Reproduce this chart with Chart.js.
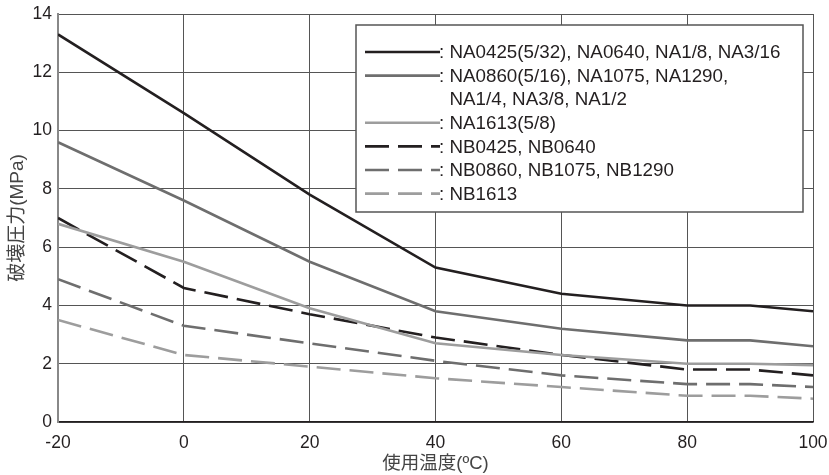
<!DOCTYPE html>
<html>
<head>
<meta charset="utf-8">
<script src="https://cdn.jsdelivr.net/npm/chart.js@4.4.1/dist/chart.umd.min.js"></script>
<style>
  html, body { margin: 0; padding: 0; background: #fff; }
  #wrap { width: 829px; height: 475px; }
</style>
</head>
<body>
<div id="wrap"><canvas id="burst"></canvas></div>
<script>
// temperatures (°C) read at each bend of the curves
const temps = [-20, 0, 20, 40, 60, 80, 90, 100];

// burst pressure (MPa)
const na0425 = [13.3, 10.6, 7.8, 5.3, 4.4, 4.0, 4.0, 3.8];
const na0860 = [9.6, 7.6, 5.5, 3.8, 3.2, 2.8, 2.8, 2.6];
const na1613 = [6.8, 5.5, 3.9, 2.7, 2.3, 2.0, 2.0, 1.95];
const nb0425 = [7.0, 4.6, 3.7, 2.9, 2.3, 1.8, 1.8, 1.6];
const nb0860 = [4.9, 3.3, 2.7, 2.1, 1.6, 1.3, 1.3, 1.2];
const nb1613 = [3.5, 2.3, 1.9, 1.5, 1.2, 0.9, 0.9, 0.8];

const legendLabels = [
    [': NA0425(5/32), NA0640, NA1/8, NA3/16'],
    [': NA0860(5/16), NA1075, NA1290,', '  NA1/4, NA3/8, NA1/2'],
    [': NA1613(5/8)'],
    [': NB0425, NB0640'],
    [': NB0860, NB1075, NB1290'],
    [': NB1613']
];

const xTitle = '使用温度(ºC)';
const yTitle = '破壊圧力(MPa)';

const BLACK = '#231f20';
const GRAY = '#6e6e6e';
const LIGHT = '#9d9d9d';
const FONT = '"Liberation Sans", Arial, "Noto Sans CJK JP", sans-serif';

function pts(vals) {
    return temps.map((t, i) => ({ x: t, y: vals[i] }));
}

function line(vals, color, dash) {
    return {
        data: pts(vals),
        borderColor: color,
        borderWidth: 2.6,
        borderDash: dash,
        pointRadius: 0,
        fill: false,
        tension: 0
    };
}

// legend drawn by hand so the two-line entry fits like the original
const boxLegend = {
    id: 'boxLegend',
    afterDatasetsDraw(chart) {
        const ctx = chart.ctx;
        const a = chart.chartArea;
        const left = a.left + 298, top = a.top + 11;
        const w = 447, h = 187;
        ctx.save();
        ctx.fillStyle = '#fff';
        ctx.fillRect(left, top, w, h);
        ctx.strokeStyle = '#555';
        ctx.lineWidth = 1.5;
        ctx.strokeRect(left, top, w, h);

        ctx.font = '18.8px ' + FONT;
        ctx.textBaseline = 'middle';
        ctx.fillStyle = BLACK;
        let y = top + 27;
        chart.data.datasets.forEach((ds, i) => {
            ctx.strokeStyle = ds.borderColor;
            ctx.lineWidth = ds.borderWidth;
            ctx.setLineDash(ds.borderDash || []);
            ctx.beginPath();
            ctx.moveTo(left + 9, y);
            ctx.lineTo(left + 84, y);
            ctx.stroke();
            ctx.setLineDash([]);
            legendLabels[i].forEach((txt, k) => {
                ctx.fillText(txt, left + 83, y + 1);
                if (k < legendLabels[i].length - 1) y += 23.6;
            });
            y += 23.6;
        });
        ctx.restore();
    }
};

var ctx = document.getElementById('burst').getContext('2d');
var myChart = new Chart(ctx, {
    type: 'line',
    data: {
        datasets: [
            line(na0425, BLACK, []),
            line(na0860, GRAY, []),
            line(na1613, LIGHT, []),
            line(nb0425, BLACK, [24, 9]),
            line(nb0860, GRAY, [24, 9]),
            line(nb1613, LIGHT, [24, 9])
        ]
    },
    options: {
        responsive: true,
        maintainAspectRatio: false,
        animation: false,
        layout: {
            padding: { top: 14, right: 16, bottom: 0, left: 6 }
        },
        plugins: {
            legend: { display: false },
            tooltip: { enabled: false }
        },
        scales: {
            x: {
                type: 'linear',
                min: -20,
                max: 100,
                ticks: {
                    stepSize: 20,
                    color: BLACK,
                    font: { family: FONT, size: 17.5 },
                    padding: 11,
                    maxRotation: 0
                },
                grid: { color: '#555', lineWidth: 1, drawTicks: false },
                border: { color: BLACK, width: 1.5 },
                title: {
                    display: true,
                    text: xTitle,
                    color: '#444',
                    font: { family: FONT, size: 18.5 },
                    padding: { top: 0, bottom: 0 }
                },
                afterFit: s => { s.height = 53; s.paddingLeft = 0; s.paddingRight = 0; }
            },
            y: {
                min: 0,
                max: 14,
                ticks: {
                    stepSize: 2,
                    color: BLACK,
                    font: { family: FONT, size: 17.5 },
                    padding: 6
                },
                grid: { color: '#555', lineWidth: 1, drawTicks: false },
                border: { color: '#888', width: 2 },
                title: {
                    display: true,
                    text: yTitle,
                    color: '#444',
                    font: { family: FONT, size: 19 },
                    padding: { top: 0, bottom: 2 }
                },
                afterFit: s => { s.width = 52; s.paddingTop = 0; s.paddingBottom = 0; }
            }
        }
    },
    plugins: [boxLegend]
});
</script>
</body>
</html>
